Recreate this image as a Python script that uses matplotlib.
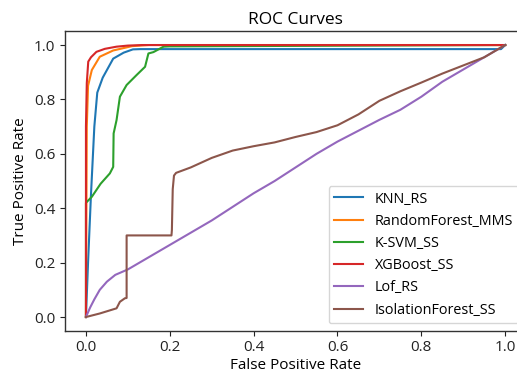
import matplotlib
matplotlib.use("Agg")
import matplotlib.pyplot as plt

plt.rcParams["font.family"] = ["Open Sans", "DejaVu Sans"]

# ROC points (FPR, TPR)
knn_fpr = [0.0, 0.005, 0.012, 0.02, 0.027, 0.04, 0.065, 0.09, 0.112, 0.13, 0.99, 1.0]
knn_tpr = [0.0, 0.20, 0.45, 0.70, 0.825, 0.88, 0.95, 0.972, 0.984, 0.985, 0.985, 1.0]

rf_fpr = [0.0, 0.002, 0.005, 0.014, 0.033, 0.065, 0.11, 0.15, 1.0]
rf_tpr = [0.0, 0.70, 0.85, 0.908, 0.957, 0.98, 0.996, 1.0, 1.0]

svm_fpr = [0.0, 0.0, 0.014, 0.035, 0.057, 0.065, 0.066, 0.073, 0.081, 0.097, 0.121,
           0.141, 0.149, 0.161, 0.185, 0.2, 1.0]
svm_tpr = [0.0, 0.42, 0.442, 0.49, 0.528, 0.552, 0.675, 0.724, 0.81, 0.853, 0.89,
           0.92, 0.969, 0.974, 0.994, 0.995, 1.0]

xgb_fpr = [0.0, 0.0, 0.002, 0.0055, 0.012, 0.025, 0.045, 0.073, 0.1, 0.134, 1.0]
xgb_tpr = [0.0, 0.70, 0.86, 0.939, 0.955, 0.975, 0.986, 0.994, 0.998, 1.0, 1.0]

lof_fpr = [0.0, 0.01, 0.02, 0.033, 0.05, 0.07, 0.1, 0.15, 0.2, 0.25, 0.3, 0.35, 0.4,
           0.45, 0.5, 0.55, 0.6, 0.65, 0.7, 0.75, 0.8, 0.85, 0.9, 0.95, 1.0]
lof_tpr = [0.0, 0.035, 0.065, 0.10, 0.13, 0.155, 0.175, 0.22, 0.265, 0.31, 0.355, 0.405,
           0.455, 0.50, 0.55, 0.60, 0.645, 0.685, 0.725, 0.762, 0.81, 0.865, 0.91, 0.955, 1.0]

iso_fpr = [0.0, 0.033, 0.073, 0.081, 0.093, 0.097, 0.097, 0.204, 0.205, 0.207, 0.21,
           0.215, 0.25, 0.3, 0.35, 0.4, 0.45, 0.5, 0.55, 0.6, 0.65, 0.7, 0.75, 0.8,
           0.85, 0.9, 0.95, 1.0]
iso_tpr = [0.0, 0.013, 0.032, 0.056, 0.069, 0.07, 0.30, 0.30, 0.32, 0.47, 0.52,
           0.53, 0.55, 0.585, 0.612, 0.628, 0.642, 0.662, 0.68, 0.705, 0.745, 0.795,
           0.83, 0.862, 0.895, 0.925, 0.955, 1.0]

names = ["KNN_RS", "RandomForest_MMS", "K-SVM_SS", "XGBoost_SS", "Lof_RS",
         "IsolationForest_SS"]

fig = plt.figure(figsize=(5.17, 3.76), dpi=100)
ax = fig.add_axes([0.1257, 0.1207, 0.892, 0.7957])

curves = [(knn_fpr, knn_tpr), (rf_fpr, rf_tpr), (svm_fpr, svm_tpr),
          (xgb_fpr, xgb_tpr), (lof_fpr, lof_tpr), (iso_fpr, iso_tpr)]
for (x, y), name in zip(curves, names):
    ax.plot(x, y, label=name)

ax.set_xlim(-0.05, 1.05)
ax.set_ylim(-0.05, 1.05)
ax.set_title("ROC Curves", fontsize=12.5, pad=5)
ax.set_xlabel("False Positive Rate", fontsize=11, labelpad=2)
ax.set_ylabel("True Positive Rate", fontsize=11)
ax.tick_params(labelsize=11, colors="#222222")
for s in ax.spines.values():
    s.set_color("#333333")
    s.set_linewidth(1.0)
ax.legend(loc="lower right", fontsize=10.4)

fig.savefig("out.png", dpi=100)
